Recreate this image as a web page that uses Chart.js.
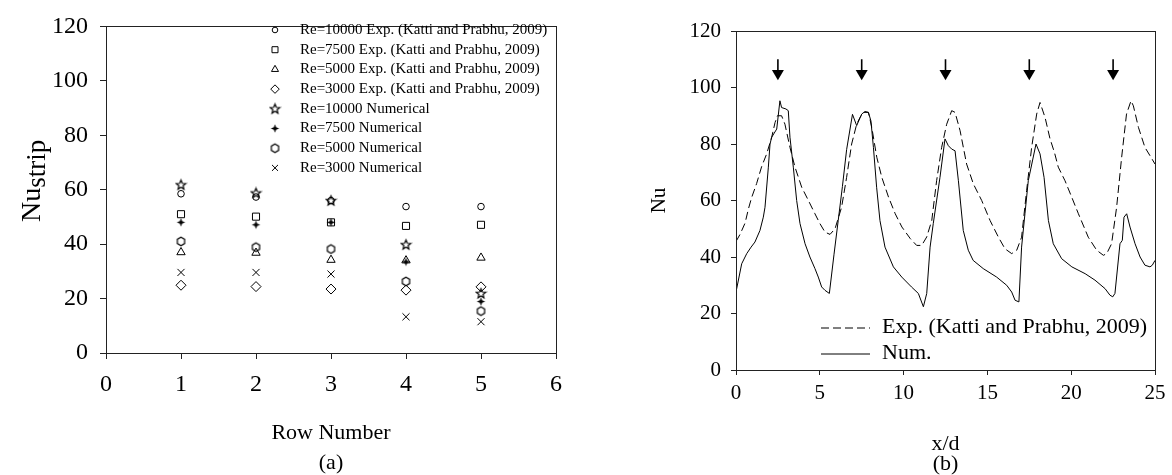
<!DOCTYPE html>
<html>
<head>
<meta charset="utf-8">
<script src="https://cdn.jsdelivr.net/npm/chart.js@4.4.0/dist/chart.umd.min.js"></script>
<style>
  body { margin: 0; background: #fff; }
  #wrapA { position: absolute; left: 0; top: 0; width: 590px; height: 475px; }
  #wrapB { position: absolute; left: 640px; top: 0; width: 532px; height: 475px; }
</style>
</head>
<body>
<div id="wrapA"><canvas id="rowChart"></canvas></div>
<div id="wrapB"><canvas id="nuChart"></canvas></div>
<script>
// (a) strip averaged Nu for each row
const rows = [1, 2, 3, 4, 5];
const exp10000 = [58.5, 57.3, 56, 53.8, 53.8];
const exp7500 = [51, 50.1, 48, 46.7, 47.1];
const exp5000 = [37, 36.8, 34.2, 34, 35];
const exp3000 = [24.9, 24.4, 23.5, 23.1, 24.3];
const num10000 = [61.8, 58.8, 56, 39.8, 21.9];
const num7500 = [48, 47.1, 48, 33.5, 18.9];
const num5000 = [41, 38.9, 38.2, 26.3, 15.4];
const num3000 = [29.6, 29.6, 29, 13.3, 11.5];

// (b) local Nu along x/d
const xExp = [0, 0.24, 0.54, 0.74, 0.93, 1.23, 1.53, 1.83, 2.13, 2.33, 2.47, 2.72, 2.92, 3.22, 3.52, 3.92, 4.32, 4.71, 5.01, 5.31, 5.61, 5.91, 6.3, 6.6, 6.9, 7.2, 7.4, 7.6, 7.9, 8.1, 8.4, 8.7, 9.1, 9.5, 9.9, 10.4, 10.78, 11.08, 11.38, 11.68, 11.97, 12.27, 12.57, 12.87, 13.07, 13.37, 13.76, 14.16, 14.66, 15.16, 15.66, 16.05, 16.45, 16.75, 17.04, 17.34, 17.64, 17.94, 18.14, 18.44, 18.73, 19.0, 19.23, 19.63, 20.03, 20.43, 21.02, 21.52, 21.92, 22.12, 22.41, 22.71, 23.01, 23.3, 23.57, 23.71, 24.01, 24.4, 24.76, 25];
const yExp = [45.5, 48, 52, 57, 61, 66, 72, 76.5, 82.4, 87.6, 90, 90, 87, 78.8, 71.8, 64.7, 60, 55.3, 51.8, 48.8, 48, 50, 57.6, 68.2, 80, 87, 89.4, 91.2, 91.2, 85.9, 75.3, 68.2, 61.2, 55.3, 50.6, 46.5, 44.1, 44.1, 47.1, 52.9, 67, 78.8, 87, 91.8, 91.2, 84.7, 72.9, 65.9, 60, 52.9, 47, 42.9, 41.2, 42.4, 47, 63.5, 78.8, 90.6, 94.7, 89.4, 82, 77, 71.8, 67, 61.2, 55.3, 47, 42.4, 40.6, 41.2, 44.7, 57.6, 75.3, 90.6, 95.3, 93.5, 85.9, 78.8, 75.3, 72.9];
const xNum = [0, 0.34, 0.64, 0.9, 1.13, 1.43, 1.63, 1.73, 1.93, 2.03, 2.13, 2.43, 2.62, 2.72, 2.98, 3.12, 3.22, 3.42, 3.62, 3.82, 4.12, 4.41, 4.71, 4.91, 5.11, 5.31, 5.57, 5.85, 6.1, 6.35, 6.6, 6.95, 7.2, 7.5, 7.7, 7.9, 8.05, 8.2, 8.39, 8.59, 8.89, 9.39, 9.89, 10.47, 10.88, 11.18, 11.38, 11.58, 11.77, 12.17, 12.47, 12.67, 12.87, 13.07, 13.27, 13.56, 13.86, 14.15, 14.75, 15.55, 16.15, 16.45, 16.65, 16.88, 17.04, 17.24, 17.44, 17.9, 18.14, 18.38, 18.64, 18.93, 19.43, 20.04, 20.83, 21.42, 22.02, 22.31, 22.48, 22.61, 22.91, 23.05, 23.15, 23.31, 23.51, 23.81, 24.11, 24.4, 24.7, 24.84, 25];
const yNum = [27.6, 37.6, 41.2, 43.5, 45.3, 49.4, 54.1, 57.6, 71.8, 80, 82.4, 85.3, 95.3, 92.9, 92.4, 91.8, 82.4, 71.8, 60, 51.8, 44.7, 40, 35.9, 32.9, 29.4, 28.2, 27.1, 41, 53, 65, 78, 90.5, 86.5, 90.6, 91.5, 91.2, 88.2, 78.8, 64.7, 52.9, 43.5, 36.5, 32.9, 29.4, 27.1, 22.4, 27.1, 43.5, 51.8, 68.2, 81.8, 79.4, 78.2, 77.6, 67, 49.4, 42.4, 38.8, 35.9, 32.9, 30, 27.6, 24.7, 24.1, 43.5, 55.3, 67, 80, 76.5, 68.2, 52.9, 44.7, 39.4, 36.5, 34.1, 31.8, 28.8, 26.5, 25.9, 27.1, 44.7, 45.9, 54.1, 55.3, 50.6, 44.7, 40, 37.1, 36.5, 37.1, 38.8];
const jetX = [2.5, 7.5, 12.5, 17.5, 22.5];

const serif = "'Liberation Serif', 'Times New Roman', serif";

// small marker images for the shapes Chart.js does not have
function markerCanvas(draw) {
  const c = document.createElement('canvas');
  c.width = 13; c.height = 13;
  const g = c.getContext('2d');
  g.strokeStyle = '#000'; g.fillStyle = '#000'; g.lineWidth = 1.2;
  draw(g);
  return c;
}
const starImg = markerCanvas(g => {
  g.beginPath();
  for (let i = 0; i < 10; i++) {
    const r = i % 2 ? 2.2 : 5.0;
    const a = -Math.PI / 2 + i * Math.PI / 5;
    g.lineTo(6.5 + r * Math.cos(a), 6.8 + r * Math.sin(a));
  }
  g.closePath(); g.stroke();
});
const sparkImg = markerCanvas(g => {
  g.beginPath();
  for (let i = 0; i < 8; i++) {
    const r = i % 2 ? 1.6 : 4.2;
    const a = -Math.PI / 2 + i * Math.PI / 4;
    g.lineTo(6.5 + r * Math.cos(a), 6.5 + r * Math.sin(a));
  }
  g.closePath(); g.fill();
});
const hexImg = markerCanvas(g => {
  g.beginPath();
  for (let i = 0; i < 6; i++) {
    const a = -Math.PI / 2 + i * Math.PI / 3;
    g.lineTo(6.5 + 4.2 * Math.cos(a), 6.5 + 4.2 * Math.sin(a));
  }
  g.closePath(); g.stroke();
});

const seriesA = [
  { label: 'Re=10000 Exp. (Katti and Prabhu, 2009)', values: exp10000, style: 'circle', r: 3.3 },
  { label: 'Re=7500 Exp. (Katti and Prabhu, 2009)', values: exp7500, style: 'rect', r: 5 },
  { label: 'Re=5000 Exp. (Katti and Prabhu, 2009)', values: exp5000, style: 'triangle', r: 4.8 },
  { label: 'Re=3000 Exp. (Katti and Prabhu, 2009)', values: exp3000, style: 'rectRot', r: 5 },
  { label: 'Re=10000 Numerical', values: num10000, style: starImg, r: 5 },
  { label: 'Re=7500 Numerical', values: num7500, style: sparkImg, r: 5 },
  { label: 'Re=5000 Numerical', values: num5000, style: hexImg, r: 5 },
  { label: 'Re=3000 Numerical', values: num3000, style: 'crossRot', r: 5 }
];

const boxPlugin = {
  id: 'box',
  afterDraw(chart) {
    const { ctx, chartArea: a } = chart;
    ctx.save();
    ctx.strokeStyle = '#222';
    ctx.lineWidth = 1;
    ctx.strokeRect(Math.round(a.left) + 0.5, Math.round(a.top) + 0.5, Math.round(a.right - a.left), Math.round(a.bottom - a.top));
    ctx.restore();
  }
};

// legend inside the plot, and the Nu_strip axis title
const rowDecor = {
  id: 'rowDecor',
  afterDraw(chart) {
    const ctx = chart.ctx;
    ctx.save();
    ctx.strokeStyle = '#000';
    ctx.lineWidth = 1;
    ctx.textBaseline = 'middle';
    chart.data.datasets.forEach((ds, i) => {
      const y = 30 + i * 19.7;
      ctx.fillStyle = 'rgba(0,0,0,0)';
      Chart.helpers.drawPoint(ctx, { pointStyle: ds.pointStyle, radius: ds.pointRadius * 0.85, rotation: 0, borderWidth: 1 }, 275, y);
      ctx.fillStyle = '#000';
      ctx.font = '15px ' + serif;
      ctx.fillText(ds.label, 300, y);
    });
    ctx.fillStyle = '#000';
    ctx.translate(40, 222);
    ctx.rotate(-Math.PI / 2);
    ctx.textBaseline = 'alphabetic';
    ctx.font = '28px ' + serif;
    ctx.fillText('Nu', 0, 0);
    const w = ctx.measureText('Nu').width;
    ctx.font = '27px ' + serif;
    ctx.fillText('strip', w, 5);
    ctx.restore();
  }
};

new Chart(document.getElementById('rowChart'), {
  type: 'scatter',
  data: {
    datasets: seriesA.map(s => ({
      label: s.label,
      data: rows.map((r, i) => ({ x: r, y: s.values[i] })),
      pointStyle: s.style,
      pointRadius: s.r,
      borderColor: '#000',
      backgroundColor: 'rgba(0,0,0,0)',
      borderWidth: 1
    }))
  },
  options: {
    responsive: true,
    maintainAspectRatio: false,
    animation: false,
    devicePixelRatio: 1,
    layout: { padding: { top: 17, right: 34, left: 0, bottom: 0 } },
    plugins: { legend: { display: false }, tooltip: { enabled: false } },
    scales: {
      x: {
        type: 'linear', min: 0, max: 6,
        ticks: { stepSize: 1, color: '#000', padding: 11, font: { family: serif, size: 24 } },
        grid: { drawOnChartArea: false, color: '#222', tickLength: 6 },
        border: { color: '#222' },
        title: { display: true, text: ['Row Number', '(a)'], color: '#000', padding: { top: 0, bottom: -3 }, font: { family: serif, size: 22, lineHeight: '30px' } },
        afterFit(scale) { scale.height = 122; }
      },
      y: {
        min: 0, max: 120,
        ticks: { stepSize: 20, color: '#000', padding: 12, font: { family: serif, size: 24 } },
        grid: { drawOnChartArea: false, color: '#222', tickLength: 6 },
        border: { color: '#222' },
        afterFit(scale) { scale.width = 106; }
      }
    }
  },
  plugins: [boxPlugin, rowDecor]
});

// jet arrows and the line legend
const nuDecor = {
  id: 'nuDecor',
  afterDraw(chart) {
    const { ctx, scales: { x, y } } = chart;
    ctx.save();
    ctx.strokeStyle = '#000';
    ctx.fillStyle = '#000';
    jetX.forEach(v => {
      const px = x.getPixelForValue(v);
      const y1 = y.getPixelForValue(110);
      const y2 = y.getPixelForValue(106.2);
      const tip = y.getPixelForValue(102.6);
      ctx.lineWidth = 1.6;
      ctx.beginPath(); ctx.moveTo(px, y1); ctx.lineTo(px, y2 + 1); ctx.stroke();
      ctx.beginPath(); ctx.moveTo(px - 6, y2); ctx.lineTo(px + 6, y2); ctx.lineTo(px, tip); ctx.closePath(); ctx.fill();
    });
    ctx.lineWidth = 1;
    ctx.setLineDash([8, 4]);
    ctx.beginPath(); ctx.moveTo(181, 328); ctx.lineTo(230, 328); ctx.stroke();
    ctx.setLineDash([]);
    ctx.beginPath(); ctx.moveTo(181, 354); ctx.lineTo(230, 354); ctx.stroke();
    ctx.font = '22px ' + serif;
    ctx.textBaseline = 'middle';
    ctx.fillText('Exp. (Katti and Prabhu, 2009)', 242, 327);
    ctx.fillText('Num.', 242, 353);
    ctx.restore();
  }
};

new Chart(document.getElementById('nuChart'), {
  type: 'line',
  data: {
    datasets: [
      {
        label: 'Exp. (Katti and Prabhu, 2009)',
        data: xExp.map((v, i) => ({ x: v, y: yExp[i] })),
        borderColor: '#000', borderWidth: 1, borderDash: [8, 4],
        pointRadius: 0, tension: 0, fill: false
      },
      {
        label: 'Num.',
        data: xNum.map((v, i) => ({ x: v, y: yNum[i] })),
        borderColor: '#000', borderWidth: 1,
        pointRadius: 0, tension: 0, fill: false
      }
    ]
  },
  options: {
    responsive: true,
    maintainAspectRatio: false,
    animation: false,
    devicePixelRatio: 1,
    layout: { padding: { top: 31, right: 17, left: 0, bottom: 0 } },
    plugins: { legend: { display: false }, tooltip: { enabled: false } },
    scales: {
      x: {
        type: 'linear', min: 0, max: 25,
        ticks: { stepSize: 5, color: '#000', padding: 6, font: { family: serif, size: 21 } },
        grid: { drawOnChartArea: false, color: '#222', tickLength: 5 },
        border: { color: '#222' },
        title: { display: true, text: ['x/d', '(b)'], color: '#000', padding: { top: 0, bottom: 1 }, font: { family: serif, size: 22, lineHeight: '20px' } },
        afterFit(scale) { scale.height = 105; }
      },
      y: {
        min: 0, max: 120,
        ticks: { stepSize: 20, color: '#000', padding: 10, font: { family: serif, size: 21 } },
        grid: { drawOnChartArea: false, color: '#222', tickLength: 5 },
        border: { color: '#222' },
        title: { display: true, text: 'Nu', color: '#000', padding: { top: 7, bottom: 0 }, font: { family: serif, size: 21 } },
        afterFit(scale) { scale.width = 96; }
      }
    }
  },
  plugins: [boxPlugin, nuDecor]
});
</script>
</body>
</html>
